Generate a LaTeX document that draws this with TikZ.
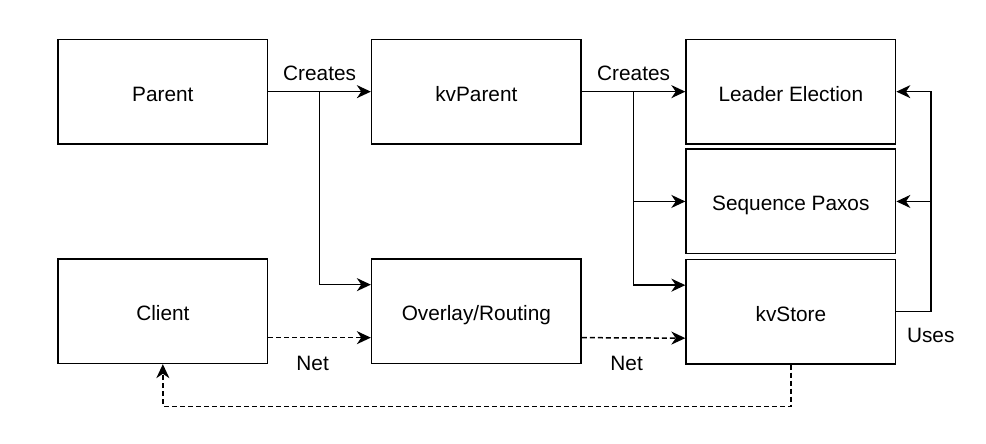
\documentclass[tikz,border=0pt]{standalone}
\usepackage{fontspec}
\setmainfont{Liberation Sans}
\usetikzlibrary{positioning, arrows.meta, calc}

\begin{document}
\begin{tikzpicture}[x=0.5pt,y=-0.5pt,>={Stealth[length=7pt,width=6.5pt,inset=2.2pt]},line width=0.75pt,
    box/.style={draw, rectangle, minimum width=104.75pt, minimum height=52.25pt, text height=9.5pt, text depth=0pt, font=\fontsize{10.4}{12.5}\selectfont},
    lbl/.style={font=\fontsize{10.4}{12.5}\selectfont},
    net/.style={dash pattern=on 2.5pt off 1.5pt}]
                \useasboundingbox (0,0) rectangle (986,444);
                \node[box] (parent) at (162.85,91.65) {Parent};
                \node[box, right=51.25pt of parent] (kvparent) {kvParent};
                \node[box, right=51.75pt of kvparent] (leader) {Leader Election};
                \node[box, below=1.9pt of leader] (seqpaxos) {Sequence Paxos};
                \node[box, below=2.1pt of seqpaxos] (kvstore) {kvStore};
                \node[box, below=56.75pt of parent] (client) {Client};
                \node[box, below=56.75pt of kvparent] (overlay) {Overlay/Routing};
                % creates
                \coordinate (c1) at ($(parent.east)!0.5!(kvparent.west)$);
                \coordinate (c2) at ($(kvparent.east)!0.5!(leader.west)$);
                \draw[->] (parent) -- node[lbl, above, yshift=2pt] {Creates} (kvparent);
                \draw[->] (c1) |- ($(overlay.north west)!0.25!(overlay.south west)$);
                \draw[->] (kvparent) -- node[lbl, above, yshift=2pt] {Creates} (leader);
                \draw[->] (c2) |- (seqpaxos.west);
                \draw[->] (c2) |- ($(kvstore.north west)!0.25!(kvstore.south west)$);
                % uses
                \draw[->] (kvstore.east) -- ++(17.2pt,0) coordinate (u) |- (leader.east);
                \draw[->] (u |- seqpaxos.east) -- (seqpaxos.east);
                \node[lbl, below=4.8pt of u] (uses) {Uses};
                % net
                \draw[->, net] ($(client.north east)!0.75!(client.south east)$) -- node[lbl, below=5.5pt, xshift=-3.5pt] {Net} ($(overlay.north west)!0.75!(overlay.south west)$);
                \draw[->, net] ($(overlay.north east)!0.75!(overlay.south east)$) -- node[lbl, below=5.5pt, xshift=-3.5pt] {Net} ($(kvstore.north west)!0.75!(kvstore.south west)$);
                \draw[->, net] (kvstore.south) -- ++(0,-20.85pt) -| (client.south);
\end{tikzpicture}
\end{document}
